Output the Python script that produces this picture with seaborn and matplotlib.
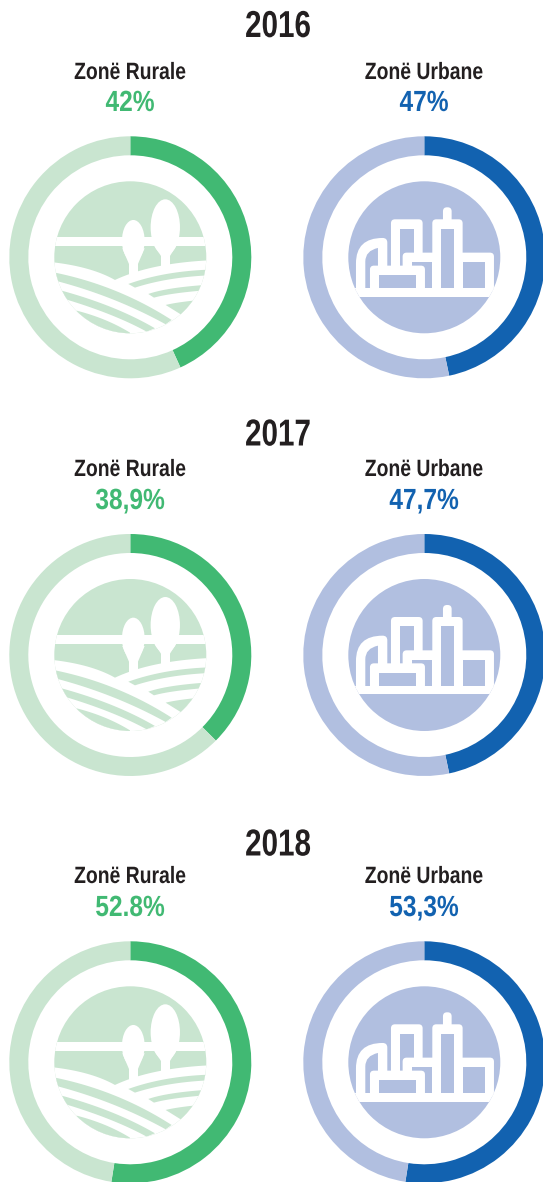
import numpy as np
import matplotlib
matplotlib.use('Agg')
import matplotlib.pyplot as plt
import seaborn as sns
from matplotlib.patches import Circle, Ellipse, FancyBboxPatch, PathPatch, Polygon, Rectangle
from matplotlib.path import Path
from matplotlib.patheffects import AbstractPathEffect
from matplotlib.transforms import Affine2D

# values
years = ['2016', '2017', '2018']
# the arcs as drawn differ a little from the printed figures
rural_arcs = [43.2, 37.5, 52.5]
urban_arcs = [46.7, 46.7, 52.5]
rural_labels = ['42%', '38,9%', '52.8%']
urban_labels = ['47%', '47,7%', '53,3%']
zone_names = ['Zonë Rurale', 'Zonë Urbane']

GREEN = '#41b973'
GREEN_LIGHT = '#c9e5d0'
BLUE = '#1262b0'
BLUE_LIGHT = '#b1bfe0'
INK = '#231f20'

# layout in picture pixels (y down)
W, H = 543, 1182
ring_y = [257.3, 655, 1062.3]
title_y = [37, 445.5, 855.5]
zone_y = [79, 476, 883]
pct_y = [111, 509, 916]
rural_x = 130.3
urban_x = 424.3

sns.set_theme(style='white')
plt.rcParams['font.family'] = ['Liberation Sans', 'DejaVu Sans']

fig = plt.figure(figsize=(W / 100, H / 100), dpi=100)
ax = fig.add_axes([0, 0, 1, 1])


class Squeeze(AbstractPathEffect):
    # no condensed family installed, so narrow the glyphs around their middle
    def __init__(self, sx):
        super().__init__()
        self.sx = sx

    def draw_path(self, renderer, gc, tpath, affine, rgbFace=None):
        mx = tpath.get_extents().x0 + tpath.get_extents().width / 2
        squeeze = Affine2D().translate(-mx, 0).scale(self.sx, 1).translate(mx, 0)
        renderer.draw_path(gc, tpath, squeeze + affine, rgbFace)


def curve(a, b, c, n=30):
    # quadratic running through a, b, c
    a, b, c = np.array(a, float), np.array(b, float), np.array(c, float)
    ctrl = 2 * b - (a + c) / 2
    t = np.linspace(0, 1, n)[:, None]
    return (1 - t) ** 2 * a + 2 * t * (1 - t) * ctrl + t ** 2 * c


def band(top, bottom):
    return np.vstack([curve(*top), curve(*bottom)[::-1]])


def rural_icon(cx, cy):
    # shapes were measured on a 3x crop, origin is the disc centre
    def tr(pts):
        pts = np.asarray(pts, float)
        return np.c_[cx + (pts[:, 0] - 391) / 3, H - cy - (pts[:, 1] - 412) / 3]

    disc = Circle((cx, H - cy), 76, fc=GREEN_LIGHT, ec='none')
    ax.add_patch(disc)

    def add(patch):
        ax.add_patch(patch)
        patch.set_clip_path(disc)

    def poly(pts, color):
        add(Polygon(tr(pts), closed=True, fc=color, ec='none'))

    poly([(150, 351), (630, 351), (630, 378), (150, 378)], 'white')
    # white ground under the horizon
    edge = np.vstack([curve((150, 426), (260, 446), (345, 480)),
                      curve((345, 480), (470, 440), (630, 421))])
    poly(np.vstack([edge, [(630, 660), (150, 660)]]), 'white')

    # trees
    for x, y, rx, ry in [(400, 362, 34, 62), (496, 322, 44, 84)]:
        xy = tr([(x, y)])[0]
        add(Ellipse(xy, 2 * rx / 3, 2 * ry / 3, fc='white', ec='none'))
    poly([(367, 385), (434, 385), (414, 432), (387, 432)], 'white')
    poly([(455, 365), (537, 365), (510, 408), (483, 408)], 'white')
    poly([(387, 425), (414, 425), (414, 470), (387, 470)], 'white')
    poly([(483, 400), (510, 400), (510, 450), (483, 450)], 'white')

    # field rows, left side
    poly(band(((150, 455), (340, 510), (515, 600)), ((150, 478), (330, 535), (497, 613))), GREEN_LIGHT)
    poly(band(((170, 508), (330, 560), (465, 625)), ((170, 530), (320, 580), (440, 635))), GREEN_LIGHT)
    poly(np.vstack([curve((230, 572), (315, 600), (390, 638)), [(390, 660), (200, 660)]]), GREEN_LIGHT)
    # field rows, right side
    poly(band(((385, 492), (500, 462), (630, 449)), ((405, 503), (510, 478), (630, 466))), GREEN_LIGHT)
    poly(band(((445, 522), (520, 505), (630, 494)), ((462, 533), (530, 520), (630, 510))), GREEN_LIGHT)
    poly(np.vstack([curve((497, 555), (540, 547), (600, 540)), [(600, 600), (542, 583)]]), GREEN_LIGHT)


def urban_icon(cx, cy):
    def tr(pts):
        pts = np.asarray(pts, float)
        return np.c_[cx + (pts[:, 0] - 403) / 3, H - cy - (pts[:, 1] - 412) / 3]

    disc = Circle((cx, H - cy), 76, fc=BLUE_LIGHT, ec='none')
    ax.add_patch(disc)

    def add(patch):
        ax.add_patch(patch)
        patch.set_clip_path(disc)

    def box(x0, y0, x1, y1, color, r=0):
        (ax0, ay1), (ax1, ay0) = tr([(x0, y0), (x1, y1)])
        if r:
            add(FancyBboxPatch((ax0, ay0), ax1 - ax0, ay1 - ay0,
                               boxstyle=f'round,pad=0,rounding_size={r / 3}', fc=color, ec='none'))
        else:
            add(Rectangle((ax0, ay0), ax1 - ax0, ay1 - ay0, fc=color, ec='none'))

    # curved hall on the left
    outer = Path(tr([(198, 515), (198, 430), (198, 354), (278, 354), (292, 354), (292, 368), (292, 515), (198, 515)]),
                 [Path.MOVETO, Path.LINETO, Path.CURVE3, Path.CURVE3, Path.CURVE3, Path.CURVE3, Path.LINETO, Path.CLOSEPOLY])
    add(PathPatch(outer, fc='white', ec='none'))
    inner = Path(tr([(226, 505), (226, 425), (226, 392), (264, 384), (264, 445), (241, 445), (241, 505), (226, 505)]),
                 [Path.MOVETO, Path.LINETO, Path.CURVE3, Path.CURVE3, Path.LINETO, Path.LINETO, Path.LINETO, Path.CLOSEPOLY])
    add(PathPatch(inner, fc=BLUE_LIGHT, ec='none'))

    # building behind
    box(303, 298, 398, 450, 'white', 12)
    box(330, 326, 372, 445, BLUE_LIGHT)
    # middle block
    box(338, 398, 440, 515, 'white', 12)
    box(365, 426, 427, 505, BLUE_LIGHT)
    # tower and antenna
    box(459, 262, 485, 320, 'white', 12)
    box(427, 298, 518, 515, 'white', 12)
    box(453, 326, 492, 505, BLUE_LIGHT)
    # right block
    box(505, 398, 612, 515, 'white', 12)
    box(518, 426, 585, 505, BLUE_LIGHT)
    # front block
    box(240, 437, 405, 515, 'white', 12)
    box(267, 465, 378, 505, BLUE_LIGHT)
    # ground line
    box(150, 505, 660, 530, 'white')


def ring(value, cx, cy, color, light):
    ax.pie([value, 100 - value], center=(cx, H - cy), radius=121, startangle=90, counterclock=False,
           colors=[color, light], wedgeprops={'width': 19, 'linewidth': 0})


def label(x, y, s, size, color, sx):
    ax.text(x, H - y, s, ha='center', va='baseline', fontsize=size, fontweight='bold', color=color,
            path_effects=[Squeeze(sx)])


for i, year in enumerate(years):
    ring(rural_arcs[i], rural_x, ring_y[i], GREEN, GREEN_LIGHT)
    ring(urban_arcs[i], urban_x, ring_y[i], BLUE, BLUE_LIGHT)
    rural_icon(rural_x, ring_y[i])
    urban_icon(urban_x, ring_y[i])

    label(278, title_y[i], year, 27, INK, 0.79)
    label(130, zone_y[i], zone_names[0], 17, INK, 0.82)
    label(424, zone_y[i], zone_names[1], 17, INK, 0.82)
    label(130, pct_y[i], rural_labels[i], 21, GREEN, 0.84)
    label(424, pct_y[i], urban_labels[i], 21, BLUE, 0.84)

ax.set_xlim(0, W)
ax.set_ylim(0, H)
ax.set_aspect('auto')
ax.set_axis_off()
fig.savefig('out.png', dpi=100)
